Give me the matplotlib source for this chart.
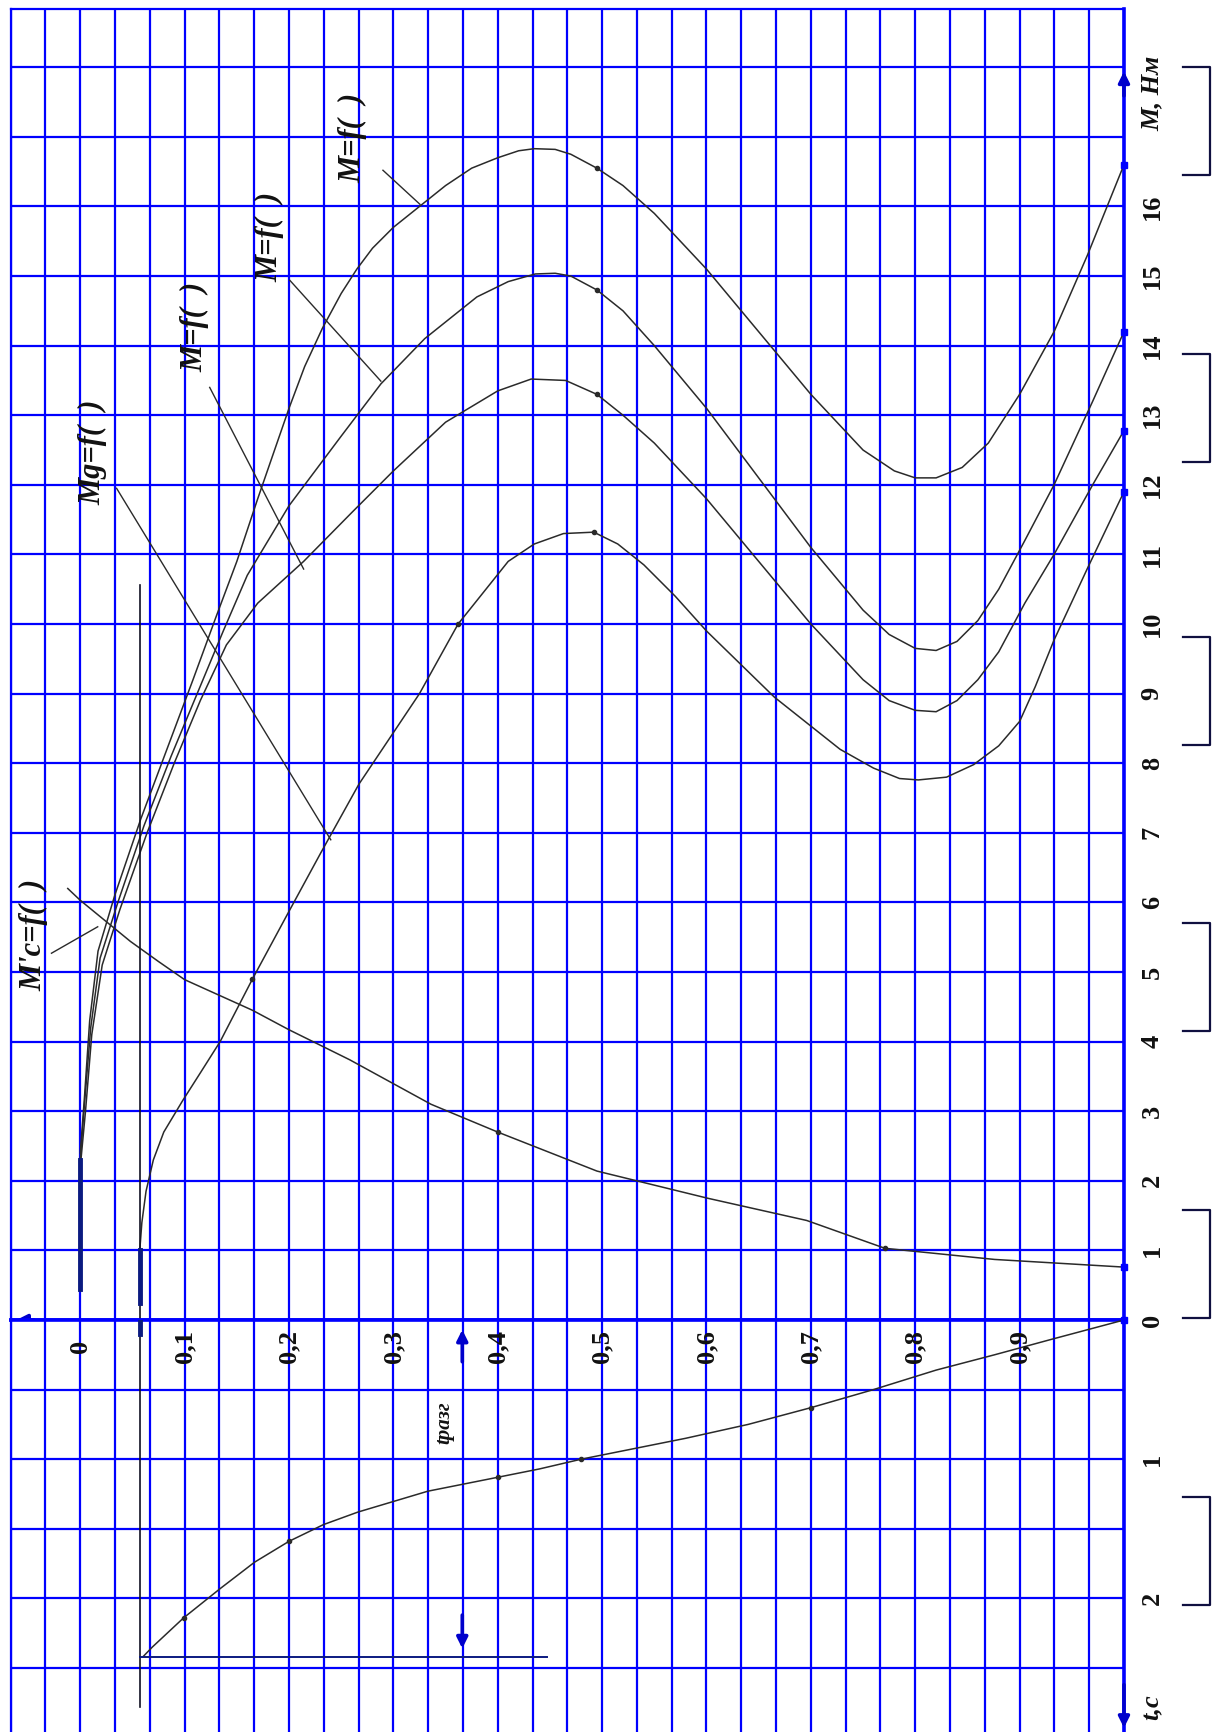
import numpy as np
import matplotlib
matplotlib.use("Agg")
from matplotlib import pyplot as plt
from matplotlib.lines import Line2D

plt.rcParams["font.family"] = ["Liberation Serif", "DejaVu Serif"]

GRID = "#0000ff"
INK = "#2a2a2a"
NAVY = "#0b1a80"

T_LEFT, T_RIGHT = -2 / 30, 1.0
M_TOP = 18.84
S_BOTTOM = 2.96

# torque curves M = f(t), four settings
c1_t = [0.0, 0.004, 0.009, 0.017, 0.033, 0.058, 0.083, 0.108, 0.13, 0.15, 0.17, 0.2, 0.215,
        0.232, 0.25, 0.265, 0.28, 0.30, 0.325, 0.35, 0.375, 0.40, 0.42, 0.435, 0.455, 0.47,
        0.495, 0.52, 0.55, 0.60, 0.65, 0.70, 0.75, 0.78, 0.80, 0.82, 0.845, 0.87, 0.90,
        0.933, 0.965, 1.0]
c1_m = [2.4, 3.2, 4.3, 5.3, 6.1, 7.2, 8.2, 9.2, 10.1, 10.9, 11.8, 13.1, 13.7,
        14.25, 14.75, 15.1, 15.4, 15.7, 16.0, 16.3, 16.55, 16.7, 16.8, 16.83, 16.82, 16.75,
        16.55, 16.3, 15.9, 15.1, 14.2, 13.3, 12.5, 12.2, 12.1, 12.1, 12.25, 12.6, 13.3,
        14.2, 15.3, 16.6]

c2_t = [0.0, 0.004, 0.010, 0.019, 0.036, 0.061, 0.087, 0.112, 0.137, 0.16, 0.2, 0.25, 0.288,
        0.33, 0.38, 0.41, 0.436, 0.455, 0.47, 0.495, 0.52, 0.55, 0.60, 0.65, 0.70, 0.75,
        0.775, 0.80, 0.82, 0.84, 0.86, 0.88, 0.905, 0.933, 0.97, 1.0]
c2_m = [2.3, 3.1, 4.2, 5.2, 6.0, 7.1, 8.1, 9.0, 9.9, 10.7, 11.7, 12.7, 13.45,
        14.1, 14.7, 14.92, 15.03, 15.04, 15.0, 14.8, 14.5, 14.0, 13.1, 12.1, 11.1, 10.2,
        9.85, 9.65, 9.62, 9.75, 10.05, 10.5, 11.2, 12.0, 13.2, 14.2]

c3_t = [0.0, 0.005, 0.011, 0.021, 0.038, 0.064, 0.09, 0.115, 0.14, 0.17, 0.214, 0.26, 0.30,
        0.35, 0.40, 0.432, 0.465, 0.495, 0.52, 0.55, 0.60, 0.65, 0.70, 0.75, 0.775, 0.80,
        0.82, 0.84, 0.86, 0.88, 0.905, 0.933, 0.97, 1.0]
c3_m = [2.2, 3.0, 4.1, 5.1, 5.9, 7.0, 8.0, 8.9, 9.7, 10.3, 10.9, 11.6, 12.2,
        12.9, 13.35, 13.52, 13.5, 13.3, 13.0, 12.6, 11.8, 10.9, 10.0, 9.2, 8.9, 8.76,
        8.74, 8.9, 9.2, 9.6, 10.3, 11.0, 12.0, 12.78]

c4_t = [0.057, 0.059, 0.063, 0.07, 0.08, 0.098, 0.115, 0.134, 0.165, 0.201, 0.23, 0.267,
        0.325, 0.362, 0.41, 0.435, 0.463, 0.492, 0.515, 0.54, 0.57, 0.60, 0.665, 0.728,
        0.76, 0.785, 0.803, 0.83, 0.856, 0.88, 0.90, 0.915, 0.933, 0.965, 1.0]
c4_m = [1.0, 1.4, 1.85, 2.3, 2.7, 3.15, 3.55, 4.0, 4.9, 5.9, 6.7, 7.7,
        9.0, 10.0, 10.9, 11.15, 11.3, 11.32, 11.15, 10.85, 10.4, 9.9, 8.95, 8.2,
        7.93, 7.78, 7.76, 7.8, 7.98, 8.25, 8.6, 9.1, 9.77, 10.8, 11.9]

# load torque M'c = f(t)
mc_t = [-0.012, 0.0, 0.048, 0.075, 0.1, 0.165, 0.2, 0.258, 0.336, 0.4, 0.495, 0.601, 0.696,
        0.771, 0.876, 1.0]
mc_m = [6.2, 6.03, 5.44, 5.15, 4.89, 4.45, 4.17, 3.74, 3.10, 2.70, 2.14, 1.75, 1.43,
        1.03, 0.87, 0.76]

# time scale below the torque axis, seconds
ts_x = [1.0, 0.93, 0.876, 0.82, 0.76, 0.70, 0.64, 0.58, 0.52, 0.48, 0.44, 0.40, 0.333,
        0.266, 0.233, 0.2, 0.167, 0.134, 0.099, 0.069, 0.06]
ts_s = [0.0, 0.14, 0.25, 0.36, 0.5, 0.63, 0.75, 0.85, 0.94, 1.0, 1.07, 1.13, 1.23,
        1.38, 1.47, 1.59, 1.74, 1.93, 2.14, 2.35, 2.42]

T_START = 0.057
T_RAZG = 2.42
T_RAZG_MARK = 0.366

m_ticks = list(range(0, 17))
x_ticks = [0.0, 0.1, 0.2, 0.3, 0.4, 0.5, 0.6, 0.7, 0.8, 0.9]
x_tick_labels = ["0", "0,1", "0,2", "0,3", "0,4", "0,5", "0,6", "0,7", "0,8", "0,9"]
s_ticks = [1, 2]

fig = plt.figure(figsize=(12.26, 17.32), dpi=100)
ax = fig.add_axes([0.00873, 0.23788, 0.90805, 0.75704])
axb = fig.add_axes([0.00873, 0.0, 0.90805, 0.23788], sharex=ax)

ax.set_xlim(T_LEFT, T_RIGHT)
ax.set_ylim(0, M_TOP)
axb.set_ylim(S_BOTTOM, 0)

for a, yt in ((ax, np.arange(0, 19)), (axb, np.arange(0, 3.0, 0.5))):
    a.set_xticks(np.arange(-2, 31) / 30)
    a.set_yticks(yt)
    a.tick_params(length=0, labelleft=False, labelbottom=False)
    a.grid(True, color=GRID, lw=1.6)
    a.set_axisbelow(True)
    for sp in a.spines.values():
        sp.set_color(GRID)
        sp.set_linewidth(1.6)
    a.spines["right"].set_linewidth(2.6)
ax.spines["bottom"].set_linewidth(2.6)
axb.spines["top"].set_linewidth(2.6)
axb.spines["bottom"].set_visible(False)

# curves
for tt, mm in ((c1_t, c1_m), (c2_t, c2_m), (c3_t, c3_m), (c4_t, c4_m), (mc_t, mc_m)):
    ax.plot(tt, mm, color=INK, lw=1.1, zorder=3)
for tt, mm, x in ((c1_t, c1_m, 0.495), (c2_t, c2_m, 0.495), (c3_t, c3_m, 0.495),
                  (c4_t, c4_m, 0.492), (c4_t, c4_m, 0.165), (c4_t, c4_m, 0.362),
                  (mc_t, mc_m, 0.4), (mc_t, mc_m, 0.771)):
    i = tt.index(x)
    ax.plot(tt[i], mm[i], "o", color=INK, ms=3, zorder=4)

# starting jumps
ax.plot([0, 0], [0.45, 2.3], color=NAVY, lw=3.5, zorder=4)
ax.plot([T_START, T_START], [0.25, 1.0], color=NAVY, lw=3.5, zorder=4)
ax.plot([T_START, T_START], [0, 10.56], color="#111122", lw=1.2, zorder=3)

# right-edge end points
ax.plot([1.0] * 5, [c1_m[-1], c2_m[-1], c3_m[-1], c4_m[-1], mc_m[-1]], "s",
        color=GRID, ms=4, zorder=5, clip_on=False)

# leaders to labels
leaders = [((-0.0276, 0.0167), (5.27, 5.65)),
           ((0.0348, 0.24), (11.95, 6.9)),
           ((0.124, 0.214), (13.4, 10.79)),
           ((0.2007, 0.288), (14.94, 13.49)),
           ((0.29, 0.3255), (16.52, 16.03))]
for lx, ly in leaders:
    ax.plot(lx, ly, color=INK, lw=1.0, zorder=3)

lab = dict(rotation=90, ha="center", va="center", fontsize=22, fontweight="bold",
           style="italic", color="#111111", zorder=6)
ax.text(-0.044, 5.53, "M'c=f(  )", **lab)
ax.text(0.0117, 12.47, "Mg=f(  )", **lab)
ax.text(0.1096, 14.27, "M=f(  )", **lab)
ax.text(0.182, 15.56, "M=f(  )", **lab)
ax.text(0.2614, 16.98, "M=f(  )", **lab)

# lower time scale
axb.plot(ts_x, ts_s, color=INK, lw=1.1, zorder=3)
for i in (5, 9, 11, 15, 18):
    axb.plot(ts_x[i], ts_s[i], "o", color=INK, ms=3, zorder=4)
axb.plot(ts_x[0], ts_s[0], "s", color=GRID, ms=4, zorder=5, clip_on=False)
axb.plot([T_START, T_START], [0, 2.78], color="#111122", lw=1.2, zorder=3)
axb.plot([T_START, T_START], [0, 0.1], color=NAVY, lw=3.5, zorder=4)
axb.plot([T_START, 0.447], [T_RAZG, T_RAZG], color=NAVY, lw=1.4, zorder=3)

arrow = dict(arrowstyle="-|>", color="#0000cc", lw=2.6, mutation_scale=16)
axb.annotate("", xy=(T_RAZG_MARK, 0.05), xytext=(T_RAZG_MARK, 0.32), arrowprops=arrow)
axb.annotate("", xy=(T_RAZG_MARK, 2.38), xytext=(T_RAZG_MARK, 2.1), arrowprops=arrow)
axb.text(0.349, 0.74, "tразг", rotation=90, ha="center", va="center", fontsize=15,
         fontweight="bold", style="italic", color="#111111")

# axis arrows
ax.annotate("", xy=(1.0, 17.98), xytext=(1.0, 17.55), arrowprops=arrow, annotation_clip=False)
axb.annotate("", xy=(1.0, 2.95), xytext=(1.0, 2.6), arrowprops=arrow, annotation_clip=False)
ax.annotate("", xy=(-0.064, 0), xytext=(-0.042, 0), arrowprops=arrow, annotation_clip=False)

# tick labels
num = dict(rotation=90, ha="center", va="center", fontsize=19, fontweight="bold",
           color="#111111", clip_on=False)
for m in m_ticks:
    ax.text(1.027, m, str(m), **num)
for s in s_ticks:
    axb.text(1.027, s, str(s), **num)
for x, txt in zip(x_ticks, x_tick_labels):
    axb.text(x, 0.19, txt, **num)
ax.text(1.027, 17.63, "M, Нм", style="italic", **num)
axb.text(1.027, 2.78, "t,c", style="italic", **num)

# binding brackets at the right margin
for top in [67, 354, 637, 923, 1210, 1497]:
    y0 = 1 - top / 1732
    y1 = 1 - (top + 108) / 1732
    xs = [1183 / 1226, 1210 / 1226, 1210 / 1226, 1183 / 1226]
    fig.add_artist(Line2D(xs, [y0, y0, y1, y1], color="#101040", lw=1.6,
                          transform=fig.transFigure))

fig.savefig("out.png", dpi=100)
